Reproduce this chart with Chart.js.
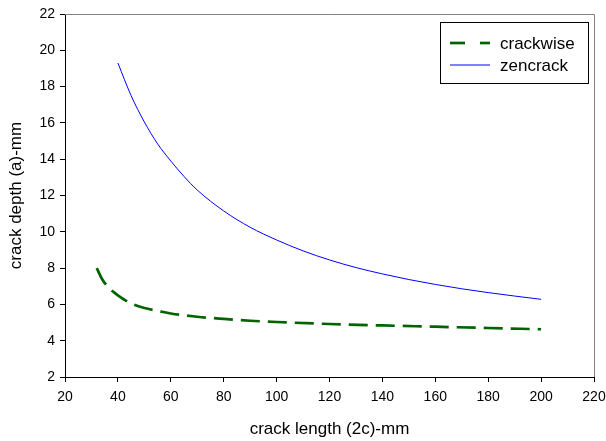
<!DOCTYPE html>
<html>
<head>
<meta charset="utf-8">
<script src="https://cdn.jsdelivr.net/npm/chart.js@4.4.1/dist/chart.umd.min.js"></script>
<style>
  html, body { margin: 0; padding: 0; background: #fff; }
  #wrap { width: 606px; height: 441px; }
</style>
</head>
<body>
<div id="wrap"><canvas id="crackChart" width="606" height="441"></canvas></div>
<script>
// crack length (2c) values and depths
const crackwiseLength = [32, 34, 36, 38, 40, 45, 50, 55, 60, 70, 80, 90, 100, 120, 140, 160, 180, 200];
const crackwiseDepth  = [8.0, 7.4, 7.0, 6.72, 6.5, 6.05, 5.8, 5.65, 5.5, 5.32, 5.2, 5.1, 5.03, 4.92, 4.84, 4.77, 4.7, 4.63];

const zencrackLength = [40, 45, 50, 55, 60, 65, 70, 80, 90, 100, 110, 120, 130, 140, 150, 160, 170, 180, 190, 200];
const zencrackDepth  = [19.3, 17.5, 16.05, 14.85, 13.9, 13.05, 12.3, 11.15, 10.25, 9.55, 8.95, 8.45, 8.03, 7.68, 7.37, 7.1, 6.86, 6.65, 6.46, 6.28];

const xTicks = [20, 40, 60, 80, 100, 120, 140, 160, 180, 200, 220];
const yTicks = [2, 4, 6, 8, 10, 12, 14, 16, 18, 20, 22];

const seriesNames = ['crackwise', 'zencrack'];

function toPoints(xs, ys) {
    return xs.map((x, i) => ({ x: x, y: ys[i] }));
}

const fontFamily = 'Arial, "Liberation Sans", sans-serif';

// grey top/right frame lines
const frameLines = {
    id: 'frameLines',
    afterDraw(chart) {
        const { ctx, chartArea: a } = chart;
        ctx.save();
        ctx.strokeStyle = '#808080';
        ctx.lineWidth = 1;
        ctx.beginPath();
        ctx.moveTo(a.left, a.top + 0.5);
        ctx.lineTo(a.right + 0.5, a.top + 0.5);
        ctx.lineTo(a.right + 0.5, a.bottom);
        ctx.stroke();
        ctx.restore();
    }
};

// boxed legend inside the plot, top right
const legendDash = [[15, 15], []];
const boxLegend = {
    id: 'boxLegend',
    afterDraw(chart) {
        const ctx = chart.ctx;
        const bx = 440, by = 22, bw = 148, bh = 61;
        ctx.save();
        ctx.fillStyle = '#fff';
        ctx.fillRect(bx, by, bw, bh);
        ctx.strokeStyle = '#000';
        ctx.lineWidth = 1;
        ctx.strokeRect(bx + 0.5, by + 0.5, bw, bh);
        ctx.font = '17px ' + fontFamily;
        ctx.textBaseline = 'middle';
        chart.data.datasets.forEach((ds, i) => {
            const yy = 43 + i * 22;
            ctx.strokeStyle = ds.borderColor;
            ctx.lineWidth = ds.borderWidth;
            ctx.setLineDash(legendDash[i]);
            ctx.beginPath();
            ctx.moveTo(450, yy);
            ctx.lineTo(490, yy);
            ctx.stroke();
            ctx.setLineDash([]);
            ctx.fillStyle = '#000';
            ctx.fillText(ds.label, 500, yy + 1);
        });
        ctx.restore();
    }
};

new Chart(document.getElementById('crackChart'), {
    type: 'scatter',
    data: {
        datasets: [
            {
                label: seriesNames[0],
                data: toPoints(crackwiseLength, crackwiseDepth),
                showLine: true,
                borderColor: '#006400',
                borderWidth: 2.7,
                borderDash: [19, 8],
                pointRadius: 0,
                cubicInterpolationMode: 'monotone'
            },
            {
                label: seriesNames[1],
                data: toPoints(zencrackLength, zencrackDepth),
                showLine: true,
                borderColor: '#0000FF',
                borderWidth: 1,
                pointRadius: 0,
                cubicInterpolationMode: 'monotone'
            }
        ]
    },
    options: {
        responsive: false,
        animation: false,
        layout: { padding: { top: 14, right: 12, left: 0, bottom: 0 } },
        plugins: {
            legend: { display: false },
            tooltip: { enabled: false }
        },
        scales: {
            x: {
                type: 'linear',
                min: 20,
                max: 220,
                afterBuildTicks(scale) { scale.ticks = xTicks.map(v => ({ value: v })); },
                afterFit(scale) {
                    scale.height = 64;
                    scale.paddingLeft = 0;
                    scale.paddingRight = 12;
                },
                grid: { drawOnChartArea: false, drawTicks: true, tickLength: 5, color: '#000' },
                border: { color: '#000', width: 1 },
                ticks: { color: '#000', padding: 7, font: { size: 14, family: fontFamily } },
                title: {
                    display: true,
                    text: 'crack length (2c)-mm',
                    color: '#000',
                    font: { size: 17, family: fontFamily },
                    padding: { top: 12, bottom: 1 }
                }
            },
            y: {
                type: 'linear',
                min: 2,
                max: 22,
                afterBuildTicks(scale) { scale.ticks = yTicks.map(v => ({ value: v })); },
                afterFit(scale) { scale.width = 65; },
                grid: { drawOnChartArea: false, drawTicks: true, tickLength: 5, color: '#000' },
                border: { color: '#000', width: 1 },
                ticks: { color: '#000', padding: 5, font: { size: 14, family: fontFamily } },
                title: {
                    display: true,
                    text: 'crack depth (a)-mm',
                    color: '#000',
                    font: { size: 17, family: fontFamily },
                    padding: { top: 6 }
                }
            }
        }
    },
    plugins: [frameLines, boxLegend]
});
</script>
</body>
</html>
